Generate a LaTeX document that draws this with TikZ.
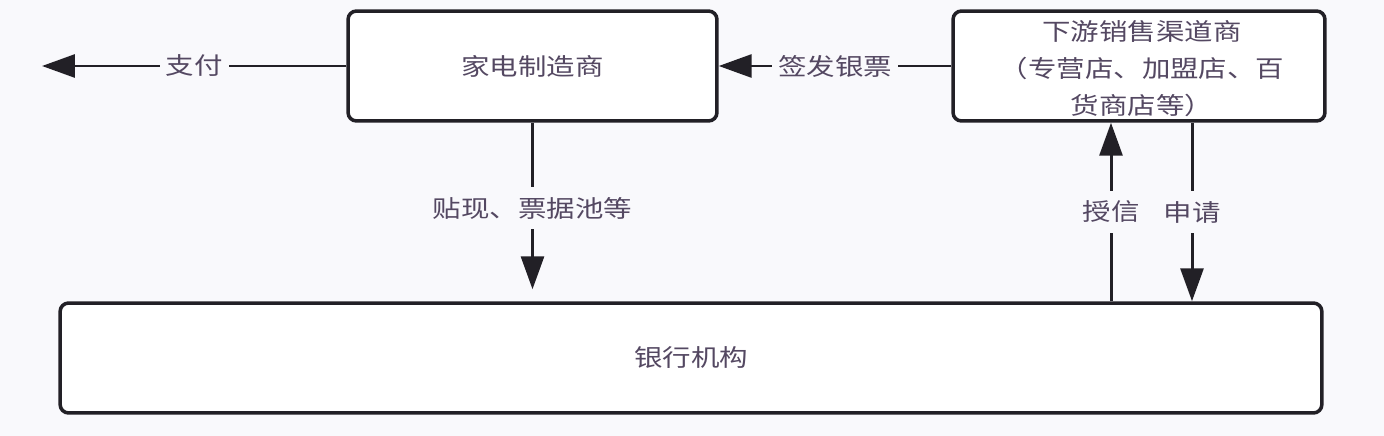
\documentclass[tikz,border=0pt]{standalone}
\usepackage{fontspec}
\usepackage{graphicx}
\newfontfamily\cjk{Noto Sans CJK SC}
\usetikzlibrary{arrows.meta}
\definecolor{bg}{RGB}{249,249,252}
\definecolor{txt}{RGB}{84,72,98}
\definecolor{ln}{RGB}{34,32,38}
\newcommand{\T}[1]{\scalebox{1.2}[1]{#1}}
\tikzset{
  box/.style={draw=ln, line width=2pt, rounded corners=0.17cm, fill=white, inner sep=0pt,
    text=txt, font=\fontsize{13.5}{21}\selectfont\cjk, align=center},
  arr/.style={draw=ln, line width=1.7pt, -{Triangle[length=0.66cm,width=0.46cm]}},
  lbl/.style={fill=bg, text=txt, font=\fontsize{13.5}{16}\selectfont\cjk, inner xsep=0.12cm, inner ysep=0.2cm}
}
\begin{document}
\begin{tikzpicture}[x=0.02cm,y=-0.02cm]
\fill[bg] (0,0) rectangle (1384,436);
\useasboundingbox (0,0) rectangle (1384,436);
\node[box, minimum width=7.38cm, minimum height=2.2cm] (mfr) at (532.5,66) {\T{家电制造商}};
\node[box, minimum width=7.44cm, minimum height=2.2cm] (dist) at (1139,66) {};
\node[text=txt, font=\fontsize{13.5}{21}\selectfont\cjk, align=center] (disttext) at (1142,69) {\T{下游销售渠道商}\\\T{（专营店、加盟店、百}\\\T{货商店等）}};
\node[box, minimum width=25.24cm, minimum height=2.2cm] (bank) at (691,358) {\T{银行机构}};
\coordinate (payend) at (42,66);
\draw[arr] (mfr.west) -- node[lbl] {\T{支付}} (payend);
\draw[arr] (dist.west) -- node[lbl] {\T{签发银票}} (mfr.east);
\draw[arr, shorten >=0.24cm] (mfr.south) -- node[lbl, pos=0.48] {\T{贴现、票据池等}} (mfr.south |- bank.north);
\coordinate (gx) at (1111,0);
\coordinate (ax) at (1192,0);
\draw[arr] (gx |- bank.north) -- node[lbl, inner xsep=0.02cm] {\T{授信}} (gx |- dist.south);
\draw[arr] (ax |- dist.south) -- node[lbl, inner xsep=0.02cm] {\T{申请}} (ax |- bank.north);
\end{tikzpicture}
\end{document}
